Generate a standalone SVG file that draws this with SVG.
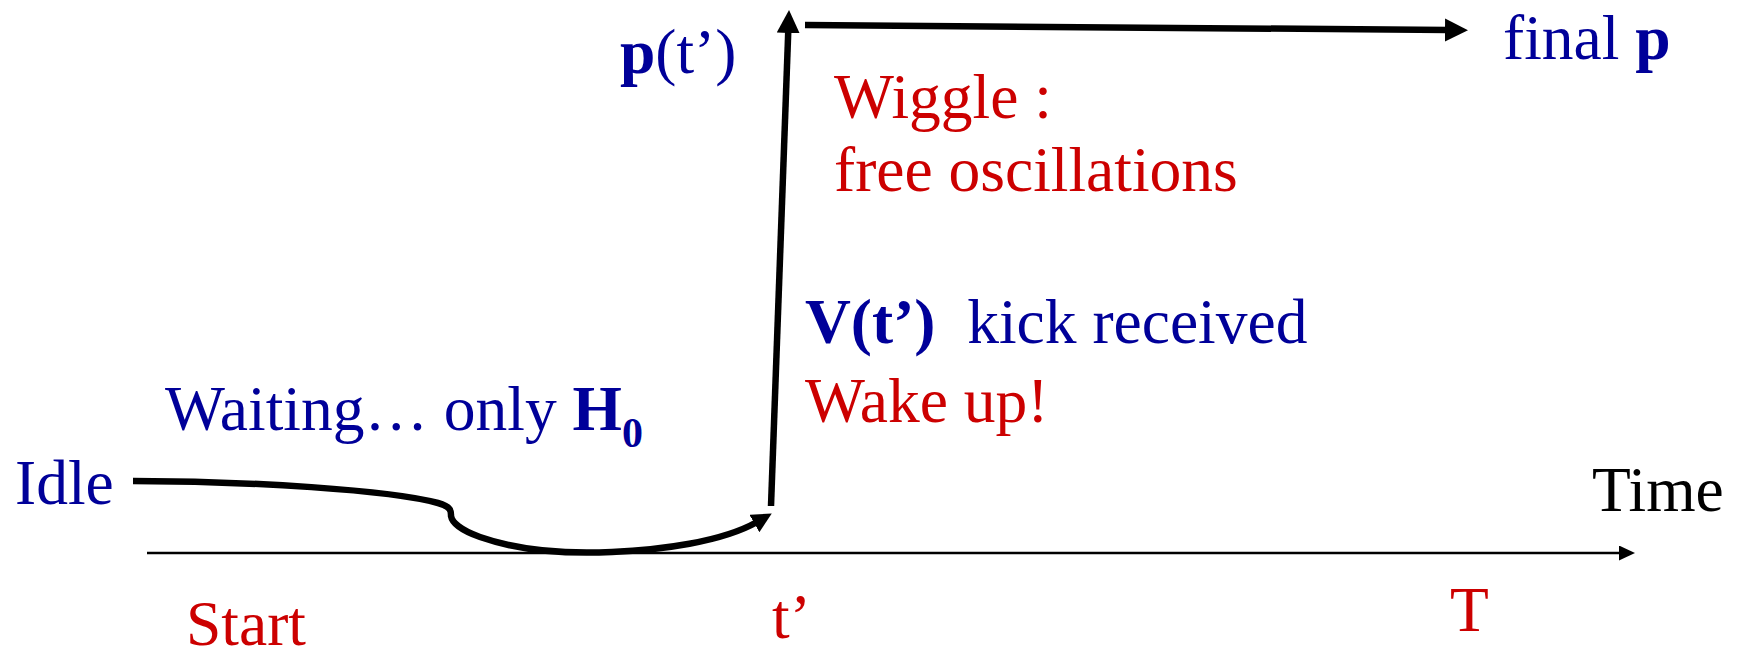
<svg xmlns="http://www.w3.org/2000/svg" width="1737" height="658" viewBox="0 0 1737 658">
<style>
text{font-family:"Liberation Serif","Times New Roman",serif;font-size:63.5px}
.b{fill:#000099}
.r{fill:#CC0000}
.k{fill:#000000}
.bold{font-weight:bold}
.thick{fill:none;stroke:#000;stroke-width:6.5}
.thin{fill:none;stroke:#000;stroke-width:2.5}
</style>
<defs>
<marker id="big" markerUnits="userSpaceOnUse" markerWidth="24" markerHeight="24" refX="3" refY="11.5" orient="auto" viewBox="0 0 24 24">
<path d="M0,0 L23,11.5 L0,23 z" fill="#000"/>
</marker>
<marker id="mid" markerUnits="userSpaceOnUse" markerWidth="22" markerHeight="22" refX="3" refY="10" orient="auto" viewBox="0 0 22 22">
<path d="M0,0 L20,10 L0,20 z" fill="#000"/>
</marker>
<marker id="small" markerUnits="userSpaceOnUse" markerWidth="16" markerHeight="16" refX="1" refY="7.5" orient="auto" viewBox="0 0 16 16">
<path d="M0,0 L16,7.5 L0,15 z" fill="#000"/>
</marker>
</defs>
<g id="connectors">
<line id="time-axis" class="thin" x1="147" y1="553" x2="1620" y2="553" marker-end="url(#small)"/>
<path id="idle-curve" class="thick" d="M133,481 C250,481 390,490 438,503 C452,507 451,512 451,516 C452,522 460,530 480,537 C520,551 570,554 612,552 C660,550 722,542 757,522" marker-end="url(#mid)"/>
<line id="kick" class="thick" x1="771" y1="506" x2="788.3" y2="30" marker-end="url(#big)"/>
<line id="free" class="thick" x1="805" y1="25" x2="1448" y2="30" marker-end="url(#big)"/>
</g>
<g id="idle"><text class="b" x="15" y="504">Idle</text></g>
<g id="waiting"><text class="b" x="165" y="430">Waiting… only <tspan class="bold">H</tspan><tspan class="bold" font-size="42" dy="17">0</tspan></text></g>
<g id="time"><text class="k" x="1592" y="511">Time</text></g>
<g id="start"><text class="r" x="186" y="645">Start</text></g>
<g id="tprime"><text class="r" x="772" y="638">t’</text></g>
<g id="T"><text class="r" x="1450" y="631">T</text></g>
<g id="kick-label"><text class="b" x="805" y="343" xml:space="preserve"><tspan class="bold">V(t’)</tspan>  kick received</text></g>
<g id="wake"><text class="r" x="805" y="422">Wake up!</text></g>
<g id="pt"><text class="b" x="620" y="73"><tspan class="bold">p</tspan>(t’)</text></g>
<g id="wiggle"><text class="r" x="834" y="118">Wiggle :</text><text class="r" x="834" y="191">free oscillations</text></g>
<g id="final"><text class="b" x="1503" y="59">final <tspan class="bold">p</tspan></text></g>
</svg>
